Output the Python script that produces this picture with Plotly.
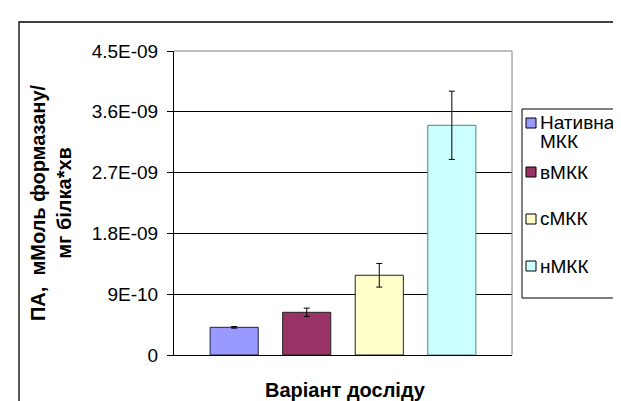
import plotly.graph_objects as go

# ---- data ----
categories = ["Нативна МКК", "вМКК", "сМКК", "нМКК"]
legend_lines = [["Нативна", "МКК"], ["вМКК"], ["сМКК"], ["нМКК"]]
values = [0.41e-9, 0.632e-9, 1.18e-9, 3.40e-9]
errors = [0.012e-9, 0.062e-9, 0.175e-9, 0.505e-9]
tick_vals = [0, 0.9e-9, 1.8e-9, 2.7e-9, 3.6e-9, 4.5e-9]
tick_text = ["0", "9E-10", "1.8E-09", "2.7E-09", "3.6E-09", "4.5E-09"]
y_title = "ПА,  мМоль формазану/<br>мг білка*хв"
x_title = "Варіант досліду"

# ---- style ----
colors = ["#9999FF", "#993366", "#FFFFCC", "#CCFFFF"]
outline = ["#222244", "#222222", "#222222", "#4f8585"]
FONT = "Liberation Sans, Arial, sans-serif"
W, H = 621, 401
L, R, T, B = 166, 504, 43, 347  # plot area in px


def px(x):
    return (x - L) / (R - L)


def py(y):
    return (B - y) / (B - T)


fig = go.Figure()
for i, cat in enumerate(categories):
    fig.add_trace(go.Bar(
        x=[i + 1], y=[values[i]], name=cat, width=0.663,
        marker=dict(color=colors[i], line=dict(color=outline[i], width=1)),
        error_y=dict(type="data", array=[errors[i]], color="#000000",
                     thickness=1, width=3),
        showlegend=False,
    ))

shapes = []
annotations = []
# chart area border
shapes.append(dict(type="rect", xref="paper", yref="paper",
                   x0=px(11), x1=px(700), y0=py(14), y1=py(480),
                   line=dict(color="#000000", width=1.3), layer="below"))
# plot area top / right gray border
shapes.append(dict(type="line", xref="paper", yref="paper",
                   x0=0, x1=1, y0=1, y1=1, line=dict(color="#808080", width=1)))
shapes.append(dict(type="line", xref="paper", yref="paper",
                   x0=1, x1=1, y0=0, y1=1, line=dict(color="#808080", width=1)))

# legend box
shapes.append(dict(type="rect", xref="paper", yref="paper",
                   x0=px(514), x1=px(700), y0=py(101), y1=py(290),
                   line=dict(color="#000000", width=1), fillcolor="white"))
entry_y = [[115, 133], [164], [211], [258]]
for i, lines in enumerate(legend_lines):
    yc = entry_y[i][0]
    shapes.append(dict(type="rect", xref="paper", yref="paper",
                       x0=px(518), x1=px(528), y0=py(yc - 5), y1=py(yc + 5),
                       line=dict(color="#000000", width=1), fillcolor=colors[i]))
    for j, t in enumerate(lines):
        annotations.append(dict(text=t, xref="paper", yref="paper",
                                x=px(530), y=py(entry_y[i][j]),
                                xanchor="left", yanchor="middle", showarrow=False,
                                font=dict(family=FONT, size=19, color="#000000")))

# axis titles
annotations.append(dict(text="<b>" + y_title + "</b>", xref="paper", yref="paper",
                        x=px(43), y=py(194), textangle=-90,
                        xanchor="center", yanchor="middle", showarrow=False,
                        font=dict(family=FONT, size=20, color="#000000")))
annotations.append(dict(text="<b>" + x_title + "</b>", xref="paper", yref="paper",
                        x=px(337), y=py(382),
                        xanchor="center", yanchor="middle", showarrow=False,
                        font=dict(family=FONT, size=20, color="#000000")))

fig.update_layout(
    width=W, height=H,
    margin=dict(l=L, r=W - R, t=T, b=H - B, pad=0),
    paper_bgcolor="white", plot_bgcolor="white",
    barmode="overlay",
    shapes=shapes, annotations=annotations,
    font=dict(family=FONT, size=19, color="#000000"),
)
fig.update_xaxes(range=[0.171, 4.829], showticklabels=False, ticks="",
                 showgrid=False, zeroline=False, automargin=False,
                 showline=True, linecolor="#000000", linewidth=1)
fig.update_yaxes(range=[0, 4.5e-9], tickvals=tick_vals, ticktext=tick_text,
                 ticks="outside", ticklen=6, tickcolor="#000000", tickwidth=1,
                 showgrid=True, gridcolor="#000000", gridwidth=1,
                 zeroline=False, showline=True, linecolor="#000000", linewidth=1,
                 automargin=False,
                 tickfont=dict(family=FONT, size=19, color="#000000"),
                 ticklabelstandoff=5)

fig.write_html("out.html")
